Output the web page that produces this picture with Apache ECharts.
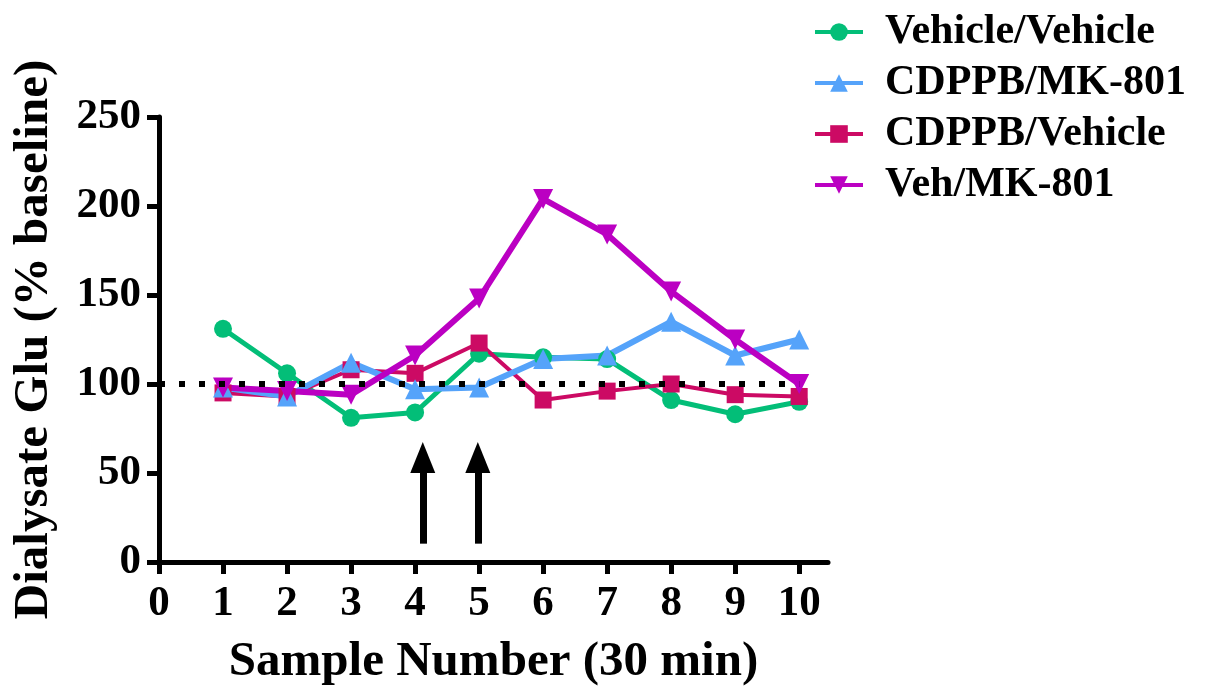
<!DOCTYPE html>
<html>
<head>
<meta charset="utf-8">
<script src="https://cdn.jsdelivr.net/npm/echarts@6/dist/echarts.min.js"></script>
<style>
html,body{margin:0;padding:0;background:#fff;}
#chart{width:1206px;height:692px;}
</style>
</head>
<body>
<div id="chart"></div>
<script>
// ---- data ----
var samples = [1, 2, 3, 4, 5, 6, 7, 8, 9, 10];
var vehVeh = [131, 106, 81, 84, 117, 115, 114, 91, 83, 90];
var cdppbMk = [98, 93, 112, 97, 98, 114, 116, 135, 116, 125];
var cdppbVeh = [95, 93, 108, 106, 123, 91, 96, 100, 94, 93];
var vehMk = [98, 96, 94, 116, 148, 204, 184, 152, 125, 100];
var seriesNames = ['Vehicle/Vehicle', 'CDPPB/MK-801', 'CDPPB/Vehicle', 'Veh/MK-801'];
var xTicks = [0, 1, 2, 3, 4, 5, 6, 7, 8, 9, 10];
var baselineX = [0, 10];
var baselineY = 100;
var arrowX = [4.12, 4.98];
var arrowBottom = 10.3;
var arrowEnd = 58.7;

function pairs(xs, ys) { return xs.map(function (x, i) { return [x, ys[i]]; }); }

var FONT = '"Liberation Serif", "Times New Roman", serif';
var chart = echarts.init(document.getElementById('chart'), null, {renderer: 'canvas'});

function lineSeries(name, vals, color, width, symbol, size, rot) {
  return {
    name: name, type: 'line', data: pairs(samples, vals),
    symbol: symbol, symbolSize: size, symbolRotate: rot || 0,
    itemStyle: {color: color},
    lineStyle: {color: color, width: width},
    emphasis: {disabled: true}, silent: true
  };
}

var option = {
  animation: false,
  backgroundColor: '#fff',
  grid: {left: 159, right: 378, top: 117, bottom: 128},
  legend: {
    orient: 'vertical', left: 808, top: 5,
    data: seriesNames,
    itemWidth: 48, itemHeight: 22, itemGap: 7,
    lineStyle: {width: 4},
    textStyle: {fontFamily: FONT, fontWeight: 'bold', fontSize: 42, color: '#000', lineHeight: 44, padding: [0, 0, 0, 17]},
    selectedMode: false
  },
  xAxis: {
    type: 'value', min: 0, max: 10.45,
    name: 'Sample Number (30 min)', nameLocation: 'middle', nameGap: 76,
    nameTextStyle: {fontFamily: FONT, fontWeight: 'bold', fontSize: 49, color: '#000'},
    axisLine: {lineStyle: {color: '#000', width: 5}},
    axisTick: {show: true, length: 12, lineStyle: {color: '#000', width: 5}, customValues: xTicks},
    axisLabel: {fontFamily: FONT, fontWeight: 'bold', fontSize: 43, color: '#000', margin: 20, customValues: xTicks},
    splitLine: {show: false}
  },
  yAxis: {
    type: 'value', min: 0, max: 250, interval: 50,
    name: 'Dialysate Glu (% baseline)', nameLocation: 'middle', nameGap: 100,
    nameTextStyle: {fontFamily: FONT, fontWeight: 'bold', fontSize: 49, color: '#000'},
    axisLine: {show: true, lineStyle: {color: '#000', width: 5}},
    axisTick: {show: true, length: 12, lineStyle: {color: '#000', width: 5}},
    axisLabel: {fontFamily: FONT, fontWeight: 'bold', fontSize: 43, color: '#000', margin: 18},
    splitLine: {show: false}
  },
  series: [
    lineSeries(seriesNames[0], vehVeh, '#03BE78', 5, 'circle', 18),
    lineSeries(seriesNames[2], cdppbVeh, '#CC0A64', 4, 'rect', 17),
    lineSeries(seriesNames[1], cdppbMk, '#55A3FA', 6, 'triangle', 20),
    lineSeries(seriesNames[3], vehMk, '#BB00C2', 6, 'triangle', 20, 180),
    {
      name: 'baseline', type: 'line', silent: true,
      data: baselineX.map(function (x) { return [x, baselineY]; }),
      symbol: 'none',
      lineStyle: {color: '#000', width: 6, type: [6, 14], cap: 'butt'},
      z: 5,
      markLine: {
        silent: true, animation: false,
        symbol: ['none', 'triangle'],
        label: {show: false},
        lineStyle: {color: '#000', width: 7, type: 'solid', cap: 'butt'},
        itemStyle: {color: '#000'},
        data: arrowX.map(function (x) {
          return [
            {coord: [x, arrowBottom], symbol: 'none', symbolSize: 0},
            {coord: [x, arrowEnd], symbol: 'triangle', symbolSize: [25, 31]}
          ];
        })
      }
    }
  ]
};
chart.setOption(option);
</script>
</body>
</html>
